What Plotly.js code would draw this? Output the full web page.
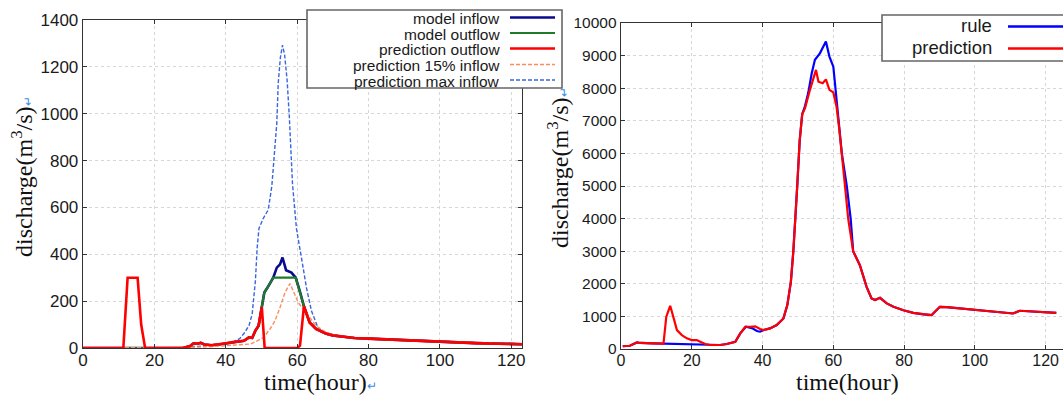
<!DOCTYPE html>
<html><head><meta charset="utf-8">
<script src="https://cdn.plot.ly/plotly-3.0.1.min.js"></script>
<style>html,body{margin:0;padding:0;background:#fff;}#chart{width:1063px;height:396px;}</style>
</head><body><div id="chart"></div>
<script>
// ---------- Left chart data (time in hours, discharge m3/s) ----------
const modelInflowT = [0, 28, 30, 31, 32, 33, 34, 36, 38, 40, 42, 44, 45.1, 46.5, 47.4, 48.3, 49.2, 50.1, 50.8, 51.7, 53.3, 54.3, 55.2, 55.9, 56.9, 58.4, 59.6, 60.8, 61.9, 63.5, 65.3, 68, 70, 73, 76, 80, 90, 100, 110, 123];
const modelInflow  = [0, 0, 8, 20, 18, 22, 15, 12, 15, 20, 25, 28, 31, 45, 43, 74, 95, 175, 237, 258, 300, 343, 357, 386, 332, 322, 300, 240, 178, 109, 81, 62, 54, 48, 43, 40, 33, 27, 21, 16];

const modelOutflowT = [0, 28, 30, 31, 32, 33, 34, 36, 38, 40, 42, 44, 45.1, 46.5, 47.4, 48.3, 49.2, 50.1, 50.8, 51.7, 53.3, 59.6, 60.8, 61.9, 63.5, 65.3, 68, 70, 73, 76, 80, 90, 100, 110, 123];
const modelOutflow  = [0, 0, 8, 20, 18, 22, 15, 12, 15, 20, 25, 28, 31, 45, 43, 74, 95, 175, 237, 258, 300, 300, 240, 178, 109, 81, 62, 54, 48, 43, 40, 33, 27, 21, 16];

const predOutflowT = [0, 11.3, 12.5, 15.3, 16.3, 17.4, 28, 30, 31, 32, 33, 34, 36, 38, 40, 42, 44, 45.1, 46.5, 47.4, 48.3, 49.2, 50.1, 50.9, 60, 60.8, 61.9, 63.5, 65.3, 68, 70, 73, 76, 80, 90, 100, 110, 123];
const predOutflow  = [0, 0, 300, 300, 100, 0, 0, 8, 20, 18, 22, 15, 12, 15, 20, 25, 28, 31, 45, 43, 74, 95, 175, 0, 0, 10, 178, 109, 81, 62, 54, 48, 43, 40, 33, 27, 21, 16];

const pred15T = [0, 25, 30, 35, 40, 42, 44, 46.9, 48.5, 50.6, 52.4, 53.8, 55.2, 56.6, 58, 59.4, 60.3, 61.7, 63.5, 65.3, 68, 70, 73, 76, 80, 90, 100, 110, 123];
const pred15  = [0, 0, 3, 5, 8, 12, 14, 17, 28, 45, 81, 116, 173, 237, 275, 230, 194, 166, 128, 95, 68, 57, 49, 44, 40, 33, 27, 21, 16];

const predMaxT = [0, 27, 30, 33, 36, 38, 40, 42, 43.9, 45.1, 46.5, 47.4, 48.3, 48.8, 49.3, 50.5, 51.9, 52.9, 53.7, 54.3, 54.7, 55.3, 55.9, 56.5, 57.2, 57.8, 58.7, 59.8, 61.2, 62.6, 64, 65.8, 68.2, 72, 76, 80, 90, 100, 110, 123];
const predMax  = [0, 0, 5, 8, 8, 10, 15, 25, 40, 62, 95, 145, 286, 428, 510, 553, 590, 690, 860, 960, 1130, 1240, 1293, 1250, 1141, 990, 700, 510, 386, 258, 159, 88, 57, 47, 43, 41, 35, 29, 23, 18];

// ---------- Right chart data ----------
const ruleT = [0.5, 2.5, 4.5, 5.5, 9, 12, 15.8, 20, 23.8, 25.2, 28, 29.9, 32.3, 33.7, 35.3, 37, 38.4, 39.3, 40.3, 42.1, 44, 45.9, 47, 48, 48.7, 49.8, 50.5, 51.2, 52, 52.9, 53.9, 54.8, 56.2, 57.9, 58.9, 60, 60.9, 61.6, 62.4, 63.8, 64.9, 65.6, 67.5, 69.4, 70.8, 71.8, 73.2, 75.1, 77, 79.8, 82.6, 85.4, 87.8, 88.7, 90.1, 92, 95.8, 99.5, 104.2, 108.9, 110.8, 112.7, 116.5, 119.3, 123];
const rule  = [90, 100, 200, 185, 173, 163, 150, 140, 125, 122, 122, 153, 224, 480, 683, 640, 550, 530, 581, 632, 734, 938, 1346, 2060, 3000, 5000, 6400, 7200, 7450, 7850, 8460, 8870, 9070, 9430, 8970, 8660, 7640, 6720, 6000, 5000, 4000, 3000, 2570, 1907, 1550, 1500, 1570, 1400, 1295, 1190, 1110, 1060, 1040, 1140, 1295, 1285, 1245, 1214, 1173, 1122, 1090, 1173, 1142, 1122, 1110];

const predT = [0.5, 2.5, 4.5, 5.5, 9, 12, 12.8, 13.9, 14.9, 15.8, 17.2, 18.6, 20, 21.4, 22.4, 23.8, 25.2, 28, 29.9, 32.3, 33.7, 35.1, 36.5, 37.9, 39.3, 40.3, 42.1, 44, 45.9, 47, 48, 48.7, 49.8, 50.5, 51.2, 52, 53.4, 54.3, 55.1, 55.8, 57, 57.9, 58.9, 60, 60.9, 61.7, 62.3, 63.3, 64.2, 65.6, 67.5, 69.4, 70.8, 71.8, 73.2, 75.1, 77, 79.8, 82.6, 85.4, 87.8, 88.7, 90.1, 92, 95.8, 99.5, 104.2, 108.9, 110.8, 112.7, 116.5, 119.3, 123];
const pred  = [90, 100, 200, 185, 173, 163, 990, 1326, 940, 580, 428, 326, 275, 275, 224, 153, 122, 122, 153, 224, 480, 683, 683, 694, 612, 581, 632, 734, 938, 1346, 2060, 3000, 5000, 6400, 7200, 7390, 7950, 8260, 8560, 8200, 8150, 8270, 7950, 7870, 7440, 6720, 6000, 5000, 4000, 3000, 2570, 1907, 1550, 1500, 1570, 1400, 1295, 1190, 1110, 1060, 1040, 1140, 1295, 1285, 1245, 1214, 1173, 1122, 1090, 1173, 1142, 1122, 1110];

const leftXTicks = [0, 20, 40, 60, 80, 100, 120];
const leftYTicks = [0, 200, 400, 600, 800, 1000, 1200, 1400];
const rightXTicks = [0, 20, 40, 60, 80, 100, 120];
const rightYTicks = [0, 1000, 2000, 3000, 4000, 5000, 6000, 7000, 8000, 9000, 10000];

const leftLegend = ['model inflow', 'model outflow', 'prediction outflow', 'prediction 15% inflow', 'prediction max inflow'];
const rightLegend = ['rule', 'prediction'];

// ---------- Layout helpers ----------
const W = 1063, H = 396;
const px = x => x / W;
const py = y => 1 - y / H;

const C = {navy:'#0a0a8f', green:'#1f7a2a', red:'#ff0000', orange:'#ff8a5c', dblue:'#3a64e0', blue:'#0000ff'};

const traces = [
  {x: modelInflowT, y: modelInflow, xaxis:'x', yaxis:'y', mode:'lines', line:{color:C.navy, width:2.6}},
  {x: modelOutflowT, y: modelOutflow, xaxis:'x', yaxis:'y', mode:'lines', line:{color:C.green, width:2.2}},
  {x: predMaxT, y: predMax, xaxis:'x', yaxis:'y', mode:'lines', line:{color:C.dblue, width:1.4, dash:'4px,2px'}},
  {x: pred15T, y: pred15, xaxis:'x', yaxis:'y', mode:'lines', line:{color:C.orange, width:1.4, dash:'4px,2px'}},
  {x: predOutflowT, y: predOutflow, xaxis:'x', yaxis:'y', mode:'lines', line:{color:C.red, width:2.6}},
  {x: ruleT, y: rule, xaxis:'x2', yaxis:'y2', mode:'lines', line:{color:C.blue, width:2.2}},
  {x: predT, y: pred, xaxis:'x2', yaxis:'y2', mode:'lines', line:{color:C.red, width:2.2}}
];

const axBase = {
  showgrid:true, gridcolor:'#d6d6d6', griddash:'dot', gridwidth:1,
  showline:true, linecolor:'#333', linewidth:1.3,
  ticks:'inside', ticklen:4, tickcolor:'#333', zeroline:false,
  tickfont:{family:'Liberation Sans, Arial, sans-serif', size:17, color:'#1a1a1a'},
  fixedrange:true
};

const layout = {
  width:W, height:H, margin:{l:0, r:0, t:0, b:0},
  paper_bgcolor:'#fff', plot_bgcolor:'#fff', showlegend:false,
  xaxis: Object.assign({}, axBase, {domain:[px(83), px(522)], range:[0,123], tickvals:leftXTicks, anchor:'y', mirror:'ticks', ticklabelstandoff:-4}),
  yaxis: Object.assign({}, axBase, {domain:[py(348), py(20)], range:[0,1400], tickvals:leftYTicks, anchor:'x', mirror:'ticks'}),
  xaxis2: Object.assign({}, axBase, {domain:[px(621), 1], range:[0,124.9], tickvals:rightXTicks, anchor:'y2', mirror:'ticks', ticklabelstandoff:-4,
    tickfont:{family:'Liberation Sans, Arial, sans-serif', size:16, color:'#1a1a1a'}}),
  yaxis2: Object.assign({}, axBase, {domain:[py(349), py(23)], range:[0,10000], tickvals:rightYTicks, tickformat:'d', anchor:'x2', mirror:false,
    tickfont:{family:'Liberation Sans, Arial, sans-serif', size:15.5, color:'#1a1a1a'}}),
  shapes: [], annotations: []
};

const serif = {family:'Liberation Serif, Times New Roman, serif', size:24, color:'#111'};
const ret = '<span style="color:#3b8ee6;font-size:12px">↵</span>';
layout.annotations.push(
  {text:'discharge(m<sup>3</sup>/s)' + ret, x:px(22), y:py(177), xref:'paper', yref:'paper', textangle:-90, showarrow:false, font:serif, xanchor:'center', yanchor:'middle'},
  {text:'time(hour)' + ret, x:px(320), y:py(382), xref:'paper', yref:'paper', showarrow:false, font:serif, xanchor:'center', yanchor:'middle'},
  {text:'discharge(m<sup>3</sup>/s)' + ret, x:px(558), y:py(168), xref:'paper', yref:'paper', textangle:-90, showarrow:false, font:serif, xanchor:'center', yanchor:'middle'},
  {text:'time(hour)', x:px(847), y:py(382), xref:'paper', yref:'paper', showarrow:false, font:serif, xanchor:'center', yanchor:'middle'}
);

// Left legend
layout.shapes.push({type:'rect', xref:'paper', yref:'paper', x0:px(307), x1:px(562), y0:py(88), y1:py(10), fillcolor:'#fff', line:{color:'#666', width:1.6}, layer:'above'});
const lRows = [17.5, 33, 48.5, 64.5, 80];
const lStyles = [
  {color:C.navy, width:2.6}, {color:C.green, width:2.2}, {color:C.red, width:2.6},
  {color:C.orange, width:1.5, dash:'4px,2px'}, {color:C.dblue, width:1.5, dash:'4px,2px'}
];
leftLegend.forEach((name, i) => {
  layout.annotations.push({text:name, x:px(502), y:py(lRows[i]+1), xref:'paper', yref:'paper', showarrow:false, xanchor:'right', yanchor:'middle',
    font:{family:'Liberation Sans, Arial, sans-serif', size:15.5, color:'#1a1a1a'}});
  layout.shapes.push({type:'line', xref:'paper', yref:'paper', x0:px(510), x1:px(555), y0:py(lRows[i]), y1:py(lRows[i]), line:lStyles[i], layer:'above'});
});

// Right legend
layout.shapes.push({type:'rect', xref:'paper', yref:'paper', x0:px(882), x1:px(1075), y0:py(61), y1:py(15), fillcolor:'#fff', line:{color:'#666', width:1.6}, layer:'above'});
const rRows = [26.5, 48.5];
const rStyles = [{color:C.blue, width:2.4}, {color:C.red, width:2.4}];
rightLegend.forEach((name, i) => {
  layout.annotations.push({text:name, x:px(994), y:py(rRows[i]-1.5), xref:'paper', yref:'paper', showarrow:false, xanchor:'right', yanchor:'middle',
    font:{family:'Liberation Sans, Arial, sans-serif', size:18.5, color:'#1a1a1a'}});
  layout.shapes.push({type:'line', xref:'paper', yref:'paper', x0:px(1008), x1:px(1070), y0:py(rRows[i]), y1:py(rRows[i]), line:rStyles[i], layer:'above'});
});

Plotly.newPlot('chart', traces, layout, {displayModeBar:false, staticPlot:true});
</script>
</body></html>
